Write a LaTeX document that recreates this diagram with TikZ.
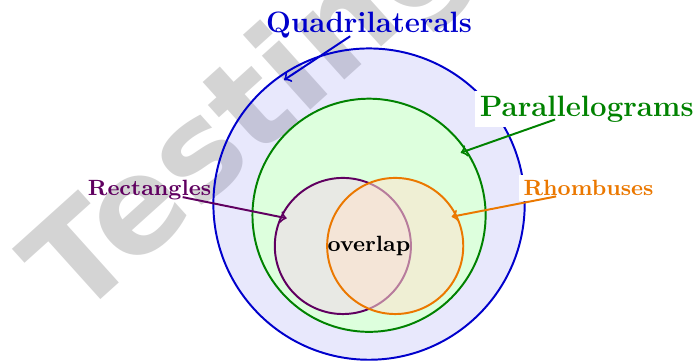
\documentclass[tikz,border=0pt]{standalone}
\usepackage{fontspec}
\newfontfamily\markfont{DejaVu Sans}
\usetikzlibrary{calc}
\definecolor{quadblue}{HTML}{0000CC}
\definecolor{quadfill}{HTML}{7F7FEE}
\definecolor{paragreen}{HTML}{008200}
\definecolor{parafill}{HTML}{DDFFDD}
\definecolor{rectpurple}{HTML}{600060}
\definecolor{rectfill}{HTML}{E8E9E4}
\definecolor{rhomborange}{HTML}{EB7800}
\definecolor{rhombfill}{HTML}{FFE2CE}

\begin{document}
\begin{tikzpicture}[
  set/.style={circle, draw=#1, thick, inner sep=0pt},
  lbl/.style={font=\bfseries\small, inner sep=2pt, anchor=base},
  biglbl/.style={font=\bfseries\large, inner sep=2pt, anchor=base},
  arr/.style={->, thick}
]
\useasboundingbox (-5.287,-1.648) rectangle (4.713,3.524);
% watermark
\node[rotate=42, anchor=base west, inner sep=0pt, text=black!17,
  font=\markfont\bfseries\fontsize{54}{54}\selectfont] (mark) at (-4.2,-1.09) {Testing};
% sets
\node[set=quadblue, fill=quadfill, fill opacity=0.18, minimum size=4.46cm] (quad) at (0,0.6) {};
\node[set=paragreen, fill=parafill, minimum size=3.34cm] (para) at (0,0.44) {};
\node[set=rectpurple, fill=rectfill, minimum size=1.95cm] (rect) at (-0.375,0) {};
\node[set=rhomborange, fill=rhombfill, fill opacity=0.55, minimum size=1.95cm] (rhomb) at (0.375,0) {};
\node[font=\bfseries\small] (ov) at (0,0) {overlap};
% labels
\node[biglbl, text=quadblue] (quadlbl) at (0,3.055) {Quadrilaterals};
\node[biglbl, text=paragreen, fill=white] (paralbl) at (3.12,1.862) {Parallelograms};
\node[lbl, text=rectpurple] (rectlbl) at (-3.145,0.72) {Rectangles};
\node[lbl, text=rhomborange, fill=white] (rhomblbl) at (3.145,0.72) {Rhombuses};
% arrows
\draw[arr, quadblue] ($(quadlbl.base)+(-0.27,-0.05)$) -- ($(quad.center)+(124.4:2.155)$);
\draw[arr, paragreen] ($(paralbl.base)+(-0.455,-0.05)$) -- ($(para.center)+(34.3:1.59)$);
\draw[arr, rectpurple] ($(rectlbl.base)+(0.475,-0.02)$) -- ($(rect.center)+(153.7:0.897)$);
\draw[arr, rhomborange] ($(rhomblbl.base)+(-0.465,-0.01)$) -- ($(rhomb.center)+(27.4:0.91)$);
\end{tikzpicture}
\end{document}
